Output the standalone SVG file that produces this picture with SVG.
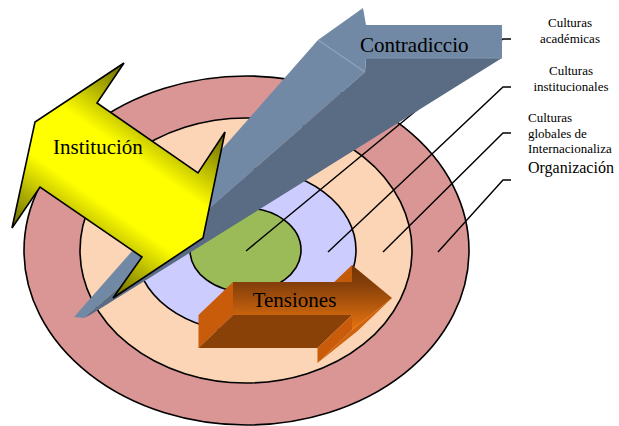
<svg xmlns="http://www.w3.org/2000/svg" width="619" height="426" viewBox="0 0 619 426">
<defs>
<style>
.ring{stroke:#000;stroke-width:1.6}
.lead{stroke:#000;stroke-width:1.4;fill:none}
.lbl{font-family:"Liberation Serif","Times New Roman",serif;fill:#000}
.small{font-size:13px}
.big{font-size:21px}
</style>
<linearGradient id="yel" gradientUnits="userSpaceOnUse" x1="12" y1="228" x2="126" y2="64">
<stop offset="0" stop-color="#666600"/>
<stop offset="0.2" stop-color="#b8b800"/>
<stop offset="0.36" stop-color="#ffff00"/>
<stop offset="0.64" stop-color="#ffff00"/>
<stop offset="0.8" stop-color="#b8b800"/>
<stop offset="1" stop-color="#666600"/>
</linearGradient>
<linearGradient id="org" gradientUnits="userSpaceOnUse" x1="0" y1="265" x2="0" y2="330">
<stop offset="0" stop-color="#723304"/>
<stop offset="0.3" stop-color="#86400a"/>
<stop offset="1" stop-color="#e8740f"/>
</linearGradient>
</defs>
<rect width="619" height="426" fill="#fff"/>

<g id="ring-organizacion"><ellipse class="ring" cx="246.5" cy="250.5" rx="222.5" ry="174.5" fill="#d99694"/></g>
<g id="ring-internacionalizacion"><ellipse class="ring" cx="246" cy="250.5" rx="166" ry="132.5" fill="#fbd5b5"/></g>
<g id="ring-institucionales"><ellipse class="ring" cx="246" cy="250" rx="110" ry="82" fill="#ccccff"/></g>
<g id="ring-academicas"><ellipse class="ring" cx="245.5" cy="250" rx="55.5" ry="42" fill="#9bbb59"/></g>

<g id="connectors">
<polyline class="lead" points="246,251 503,39 511,39"/>
<polyline class="lead" points="328,252 503,87 511,87"/>
<polyline class="lead" points="383,252 503,133 511,133"/>
<polyline class="lead" points="438,252 503,180 511,180"/>
</g>

<g id="arrow-contradiccion">
<polygon points="318,40 365,72 84,318 74,317" fill="#7189a5"/>
<polygon points="365,72 366,58 502,58 90,315 84,318" fill="#5a6b84"/>
<polygon points="318,40 363,8 366,25 502,25 502,58 366,58 365,72" fill="#7189a5"/>
<line x1="318" y1="40" x2="365" y2="72" stroke="#8fa3bb" stroke-width="1.2"/>
<line x1="366" y1="58" x2="502" y2="58" stroke="#8297b0" stroke-width="1"/>
<text class="lbl big" x="360" y="52">Contradiccio</text>
</g>

<g id="arrow-institucion">
<polygon points="124,63 97,103 198,173 225,132 203,238 113,298 142,257 40,187 12,228 35,122" fill="url(#yel)" stroke="#000" stroke-width="1.6" stroke-linejoin="miter"/>
<text class="lbl big" x="53" y="154">Institución</text>
</g>

<g id="arrow-tensiones">
<polygon points="233,282 233,315 198.5,348 198.5,315" fill="#c85c0a"/>
<polygon points="233,315 352,315 317.5,348 198.5,348" fill="#8a4108"/>
<polygon points="352,315 352,330 317.5,363 317.5,348" fill="#c85c0a"/>
<polygon points="352,330 392,298 357.5,331 317.5,363" fill="#cf620c"/>
<polygon points="352,265 352,282 317.5,315 317.5,298" fill="#c25a0a"/>
<polygon points="233,282 352,282 352,265 392,298 352,330 352,315 233,315" fill="url(#org)"/>
<text class="lbl big" x="294.5" y="307" text-anchor="middle">Tensiones</text>
</g>

<g id="labels">
<text class="lbl small" x="570" y="27" text-anchor="middle">Culturas</text>
<text class="lbl small" x="570" y="43" text-anchor="middle">académicas</text>
<text class="lbl small" x="571" y="75" text-anchor="middle">Culturas</text>
<text class="lbl small" x="571" y="91" text-anchor="middle">institucionales</text>
<text class="lbl small" x="528" y="122">Culturas</text>
<text class="lbl small" x="528" y="138">globales de</text>
<text class="lbl small" x="528" y="153">Internacionaliza</text>
<text class="lbl" x="528" y="173" font-size="16">Organización</text>
</g>
</svg>
